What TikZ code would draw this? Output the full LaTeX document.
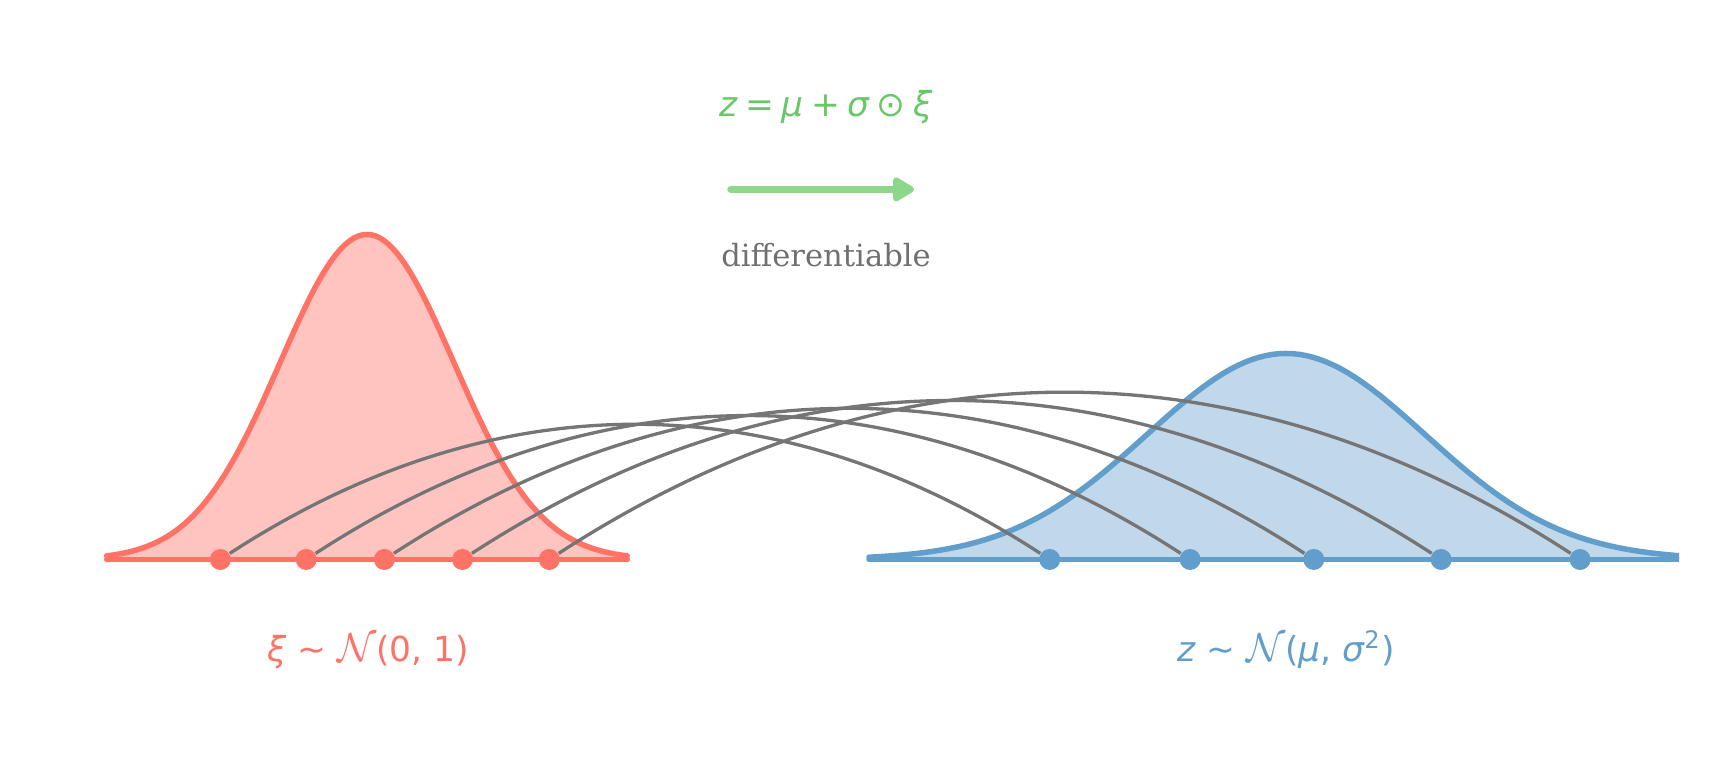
\documentclass[tikz,border=0pt]{standalone}
\usepackage{fontspec}
\usepackage{graphicx}
\usetikzlibrary{arrows.meta}
\newfontfamily\labelfont{DejaVu Sans}
\newfontfamily\notefont{DejaVu Serif}

\definecolor{stdred}{RGB}{255,115,102}
\definecolor{stdredfill}{RGB}{255,196,192}
\definecolor{postblue}{RGB}{98,158,203}
\definecolor{postbluefill}{RGB}{192,216,234}
\definecolor{arcgray}{RGB}{117,117,117}
\definecolor{mapgreen}{RGB}{104,200,104}
\definecolor{arrowgreen}{RGB}{142,214,138}
\definecolor{notegray}{RGB}{112,112,112}

\pgfdeclarelayer{curves}
\pgfdeclarelayer{links}
\pgfsetlayers{curves,links,main}

\newcommand{\mi}[1]{{\labelfont\itshape #1}}
\newcommand{\normalN}{\scalebox{1.15}{$\mathcal{N}$}}

\tikzset{
  density/.style = {line width=0.055cm, line cap=round, line join=round},
  sample/.style = {circle, inner sep=0pt, minimum size=0.21cm},
  mathlabel/.style = {font=\labelfont\fontsize{9.8}{12}\selectfont},
}

\begin{document}
\begin{tikzpicture}[x=0.01cm, y=0.01cm]
\useasboundingbox (0,0) rectangle (1727,777);

% the two densities
\begin{pgfonlayer}{curves}
\fill[stdredfill] plot[domain=-3:3, samples=121] ({367+86.8*\x}, {217.5+325*exp(-0.5*(\x)*(\x))})
  -- (627.4,217.5) -- (106.6,217.5) -- cycle;
\draw[density, stdred] plot[domain=-3:3, samples=121] ({367+86.8*\x}, {217.5+325*exp(-0.5*(\x)*(\x))});
\draw[density, stdred] (106.6,217.5) -- (627.4,217.5);
\begin{scope}
\clip (0,0) rectangle (1679,777);
\fill[postbluefill] plot[domain=-3:3, samples=121] ({1286+139*\x}, {217.5+206*exp(-0.5*(\x)*(\x))})
  -- (1703,217.5) -- (869,217.5) -- cycle;
\draw[density, postblue] plot[domain=-3:3, samples=121] ({1286+139*\x}, {217.5+206*exp(-0.5*(\x)*(\x))});
\draw[density, postblue] (869,217.5) -- (1703,217.5);
\end{scope}
\end{pgfonlayer}

% samples
\begin{scope}[every node/.style = {sample, fill=stdred}]
\node (xi1) at (220.4,217.5) {};
\node (xi2) at (306.2,217.5) {};
\node (xi3) at (384.4,217.5) {};
\node (xi4) at (462.5,217.5) {};
\node (xi5) at (549.3,217.5) {};
\end{scope}
\begin{scope}[every node/.style = {sample, fill=postblue}]
\node (z1) at (1049.7,217.5) {};
\node (z2) at (1190.1,217.5) {};
\node (z3) at (1313.8,217.5) {};
\node (z4) at (1441.1,217.5) {};
\node (z5) at (1580.1,217.5) {};
\end{scope}

% reparametrisation links
\begin{pgfonlayer}{links}
\begin{scope}[every edge/.style = {draw, arcgray, line width=0.033cm, bend left=33}]
\path (xi1) edge (z1);
\path (xi2) edge (z2);
\path (xi3) edge (z3);
\path (xi4) edge (z4);
\path (xi5) edge (z5);
\end{scope}
\end{pgfonlayer}

% labels
\node[mathlabel, text=stdred] (stdlabel) at (368,126)
  {\mi{ξ} ∼ \normalN(0, 1)};
\node[mathlabel, text=postblue] (postlabel) at (1286,127)
  {\mi{z} ∼ \normalN(\mi{μ}, \mi{σ}\textsuperscript{2})};

% the map
\node[mathlabel, text=mapgreen] (formula) at (826,670)
  {\mi{z}\hspace{0.22em}=\hspace{0.22em}\mi{μ}\hspace{0.22em}+\hspace{0.22em}\mi{σ}\hspace{0.22em}⊙\hspace{0.22em}\mi{ξ}};
\coordinate (mapstart) at (731,587.6);
\coordinate (mapend) at (914,587.6);
\draw[arrowgreen, line width=0.075cm, line cap=round,
  -{Triangle[length=0.24cm, width=0.27cm, round]}] (mapstart) -- (mapend);
\node[font=\notefont\fontsize{8.7}{10}\selectfont, text=notegray] (note) at (826,521.5)
  {differentiable};
\end{tikzpicture}
\end{document}
